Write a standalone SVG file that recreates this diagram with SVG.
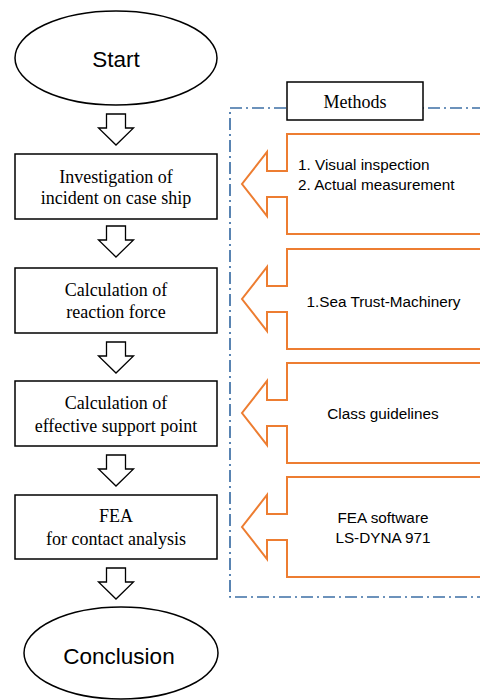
<svg xmlns="http://www.w3.org/2000/svg" width="480" height="700" viewBox="0 0 480 700">
  <style>
    .term { fill: #ffffff; stroke: #000000; stroke-width: 1.5; }
    .step { fill: #ffffff; stroke: #000000; stroke-width: 1.5; }
    .flow { fill: #ffffff; stroke: #000000; stroke-width: 1.3; stroke-linejoin: miter; }
    .frame { fill: none; stroke: #3C6FA5; stroke-width: 1.7; stroke-dasharray: 12 4 2 4; }
    .callout { fill: #ffffff; stroke: #ED7D31; stroke-width: 2; stroke-linejoin: miter; }
    .serif { font-family: "Liberation Serif", "Times New Roman", serif; font-size: 18px; fill: #000000; text-anchor: middle; }
    .sans { font-family: "Liberation Sans", Arial, sans-serif; fill: #000000; }
    .big { font-size: 22.5px; text-anchor: middle; }
    .small { font-size: 15.3px; }
    .mid { text-anchor: middle; }
  </style>
  <defs>
    <!-- hollow down block arrow, origin at top-left of stem centre -->
    <path id="down" d="M -9.5 0 H 9.5 V 14 H 17.5 L 0 31 L -17.5 14 H -9.5 Z"/>
    <!-- left-pointing callout: body from x=287, tip at x=242, centred on y=0 -->
    <path id="callout" d="M 490 -50 H 287 V -13 H 267 V -32 L 242 0 L 267 32 V 13 H 287 V 50 H 490"/>
  </defs>

  <!-- methods frame (dash-dot), open to the right -->
  <g id="methods-frame">
    <rect class="frame" x="230" y="108" width="270" height="489"/>
  </g>

  <!-- flow connectors -->
  <g id="connectors">
    <use href="#down" class="flow" x="116" y="114"/>
    <use href="#down" class="flow" x="116" y="226"/>
    <use href="#down" class="flow" x="116" y="342"/>
    <use href="#down" class="flow" x="116" y="455"/>
    <use href="#down" class="flow" x="116" y="568"/>
  </g>

  <g id="start">
    <ellipse class="term" cx="116" cy="58" rx="101" ry="47"/>
    <text class="sans big" x="116" y="67">Start</text>
  </g>

  <g id="investigation">
    <rect class="step" x="15" y="154" width="202" height="65"/>
    <text class="serif" x="116" y="183">Investigation of</text>
    <text class="serif" x="116" y="204">incident on case ship</text>
  </g>

  <g id="reaction-force">
    <rect class="step" x="15" y="268" width="202" height="65"/>
    <text class="serif" x="116" y="296">Calculation of</text>
    <text class="serif" x="116" y="318">reaction force</text>
  </g>

  <g id="support-point">
    <rect class="step" x="15" y="381" width="202" height="65"/>
    <text class="serif" x="116" y="409">Calculation of</text>
    <text class="serif" x="116" y="432">effective support point</text>
  </g>

  <g id="fea">
    <rect class="step" x="15" y="495" width="202" height="64"/>
    <text class="serif" x="116" y="522">FEA</text>
    <text class="serif" x="116" y="545">for contact analysis</text>
  </g>

  <g id="conclusion">
    <ellipse class="term" cx="121" cy="653" rx="97" ry="46"/>
    <text class="sans big" x="119" y="664">Conclusion</text>
  </g>

  <g id="methods-label">
    <rect class="step" x="287" y="82" width="136" height="38" stroke-width="1.2"/>
    <text class="serif" x="355" y="108" font-size="17">Methods</text>
  </g>

  <g id="method-inspection">
    <use href="#callout" class="callout" x="0" y="184"/>
    <text class="sans small" x="298" y="170">1. Visual inspection</text>
    <text class="sans small" x="298" y="190">2. Actual measurement</text>
  </g>

  <g id="method-seatrust">
    <use href="#callout" class="callout" x="0" y="299"/>
    <text class="sans small mid" x="383.5" y="307">1.Sea Trust-Machinery</text>
  </g>

  <g id="method-class">
    <use href="#callout" class="callout" x="0" y="413"/>
    <text class="sans small mid" x="383" y="419">Class guidelines</text>
  </g>

  <g id="method-software">
    <use href="#callout" class="callout" x="0" y="527"/>
    <text class="sans small mid" x="383" y="523">FEA software</text>
    <text class="sans small mid" x="383" y="543">LS-DYNA 971</text>
  </g>
</svg>
